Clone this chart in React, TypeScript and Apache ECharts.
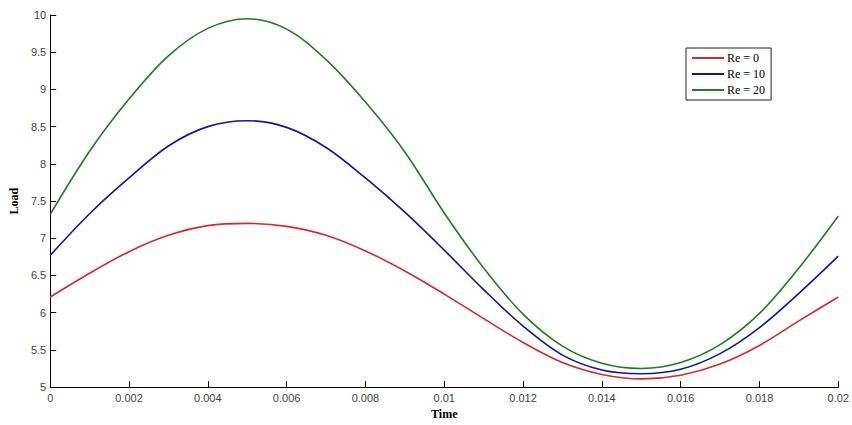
import React, { useEffect, useRef } from "react";
import * as echarts from "echarts";

const timeTicks = [
  0, 0.001, 0.002, 0.003, 0.004, 0.005, 0.006, 0.007, 0.008, 0.009, 0.01,
  0.011, 0.012, 0.013, 0.014, 0.015, 0.016, 0.017, 0.018, 0.019, 0.02,
];
const re0 = [6.21, 6.53, 6.82, 7.04, 7.17, 7.2, 7.16, 7.04, 6.83, 6.56, 6.25, 5.92, 5.6, 5.33, 5.17, 5.11, 5.16, 5.31, 5.56, 5.89, 6.21];
const re10 = [6.77, 7.33, 7.81, 8.24, 8.5, 8.58, 8.49, 8.22, 7.81, 7.35, 6.84, 6.31, 5.82, 5.43, 5.23, 5.18, 5.24, 5.45, 5.8, 6.26, 6.76];
const re20 = [7.32, 8.17, 8.87, 9.45, 9.82, 9.95, 9.81, 9.4, 8.83, 8.16, 7.34, 6.6, 5.98, 5.55, 5.32, 5.25, 5.33, 5.57, 5.99, 6.6, 7.3];
const seriesNames = ["Re = 0", "Re = 10", "Re = 20"];
const seriesColors = ["#d42a2a", "#1414a0", "#1f7d1f"];

export default function App() {
  const ref = useRef<HTMLDivElement>(null);
  useEffect(() => {
    const chart = echarts.init(ref.current!, null, { renderer: "svg", width: 852, height: 425 });
    const all = [re0, re10, re20];
    chart.setOption({
      animation: false,
      backgroundColor: "#ffffff",
      grid: { left: 48, right: 10, top: 15, bottom: 33, containLabel: false },
      legend: {
        orient: "vertical",
        left: 686,
        top: 48,
        width: 83,
        padding: [3, 6, 3, 6],
        borderColor: "#222",
        borderWidth: 1,
        backgroundColor: "#fff",
        itemWidth: 32,
        itemHeight: 2,
        itemGap: 2,
        icon: "rect",
        textStyle: { fontFamily: "Liberation Serif", fontSize: 12, color: "#000", lineHeight: 14, padding: [0, 0, 0, -2] },
        data: seriesNames,
      },
      xAxis: {
        type: "value",
        min: 0,
        max: 0.02,
        interval: 0.002,
        name: "Time",
        nameLocation: "middle",
        nameGap: 15,
        nameTextStyle: { fontFamily: "Liberation Serif", fontWeight: "bold", fontSize: 12, color: "#000" },
        axisLine: { lineStyle: { color: "#000", width: 1 } },
        axisTick: { inside: true, length: 6, lineStyle: { color: "#000" } },
        axisLabel: {
          color: "#444",
          fontFamily: "Liberation Sans",
          fontSize: 11,
          margin: 5,
          formatter: (v: number) => String(+v.toFixed(4)),
        },
        splitLine: { show: false },
      },
      yAxis: {
        type: "value",
        min: 5,
        max: 10,
        interval: 0.5,
        name: "Load",
        nameLocation: "middle",
        nameGap: 27,
        nameRotate: 90,
        nameTextStyle: { fontFamily: "Liberation Serif", fontWeight: "bold", fontSize: 12, color: "#000" },
        axisLine: { show: true, lineStyle: { color: "#000", width: 1 } },
        axisTick: { show: true, inside: true, length: 6, lineStyle: { color: "#000" } },
        axisLabel: {
          color: "#444",
          fontFamily: "Liberation Sans",
          fontSize: 11,
          margin: 4,
          formatter: (v: number) => String(+v.toFixed(2)),
        },
        splitLine: { show: false },
      },
      series: all.map((vals, i) => ({
        name: seriesNames[i],
        type: "line",
        data: timeTicks.map((t, j) => [t, vals[j]]),
        smooth: 0.34,
        showSymbol: false,
        symbol: "none",
        lineStyle: { color: seriesColors[i], width: 1.6 },
        itemStyle: { color: seriesColors[i] },
      })),
    });
    return () => chart.dispose();
  }, []);
  return (
    <div
      ref={ref}
      style={{ position: "fixed", left: 0, top: 0, width: 852, height: 425, background: "#fff" }}
    />
  );
}
